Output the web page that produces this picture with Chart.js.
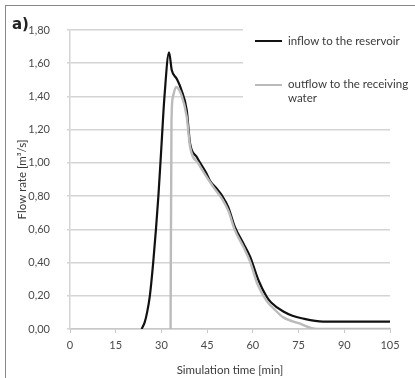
<!DOCTYPE html>
<html>
<head>
<meta charset="utf-8">
<script src="https://cdn.jsdelivr.net/npm/chart.js@4"></script>
<style>
  html, body { margin: 0; padding: 0; background: #fff; }
  #wrap { position: relative; width: 415px; height: 378px; overflow: hidden; }
  #frame { position: absolute; left: 5px; top: 5px; width: 420px; height: 400px;
           border-top: 1.5px solid #888; border-left: 1.5px solid #888; pointer-events: none; }
  #tag { position: absolute; left: 12px; top: 15px; font: bold 15px "DejaVu Sans", sans-serif; color: #222; }
  #legend { position: absolute; left: 243px; top: 22px; width: 172px; height: 88px; background: #fff;
            font: 11.5px Lato, sans-serif; color: #3a3a3a; }
  .item { position: absolute; left: 12px; }
  .swatch { position: absolute; left: 0; width: 27px; }
  .txt { position: absolute; left: 33px; line-height: 14px; white-space: nowrap; }
</style>
</head>
<body>
<div id="wrap">
  <canvas id="flowChart" width="415" height="378"></canvas>
  <div id="frame"></div>
  <div id="tag">a)</div>
  <div id="legend">
    <div class="item" style="top:18px"><div class="swatch" style="top:0;border-top:2.5px solid #111"></div><div class="txt" style="top:-6px">inflow to the reservoir</div></div>
    <div class="item" style="top:62px"><div class="swatch" style="top:0;border-top:2.5px solid #bbb"></div><div class="txt" style="top:-7px">outflow to the receiving<br>water</div></div>
  </div>
</div>
<script>
const inflowTime = [23.5, 24.5, 25.3, 26.2, 27.3, 28.2, 29.0, 30.0, 31.0, 32.5, 33.4, 35.0, 36.6, 38.3, 39.4, 41.6, 42.7, 44.8, 46.0, 48.1, 50.0, 51.9, 54.1, 56.9, 59.1, 61.8, 64.5, 66.0, 70.0, 73.0, 76.0, 83.0, 90.0, 105.0];
const inflowFlow = [0.0, 0.04, 0.1, 0.2, 0.4, 0.6, 0.8, 1.1, 1.4, 1.665, 1.557, 1.507, 1.437, 1.317, 1.117, 1.036, 1.0, 0.936, 0.89, 0.846, 0.8, 0.735, 0.615, 0.515, 0.435, 0.295, 0.195, 0.16, 0.105, 0.08, 0.065, 0.045, 0.045, 0.045];

const outflowTime = [33.0, 33.3, 33.8, 34.8, 36.6, 38.3, 39.4, 42.1, 47.0, 50.0, 52.0, 54.0, 57.0, 59.0, 61.5, 64.5, 67.0, 70.0, 75.0, 81.0, 105.0];
const outflowFlow = [0.0, 1.25, 1.4, 1.457, 1.407, 1.277, 1.097, 0.997, 0.856, 0.78, 0.71, 0.6, 0.49, 0.41, 0.27, 0.17, 0.12, 0.07, 0.035, 0.0, 0.0];

const xTicks = [0, 15, 30, 45, 60, 75, 90, 105];
const yTicks = [0, 0.2, 0.4, 0.6, 0.8, 1.0, 1.2, 1.4, 1.6, 1.8];

const toPoints = (xs, ys) => xs.map((x, i) => ({ x: x, y: ys[i] }));

const ctx = document.getElementById('flowChart').getContext('2d');
const flowChart = new Chart(ctx, {
  type: 'line',
  data: {
    datasets: [{
      label: 'outflow to the receiving water',
      data: toPoints(outflowTime, outflowFlow),
      borderColor: '#bbbbbb',
      borderWidth: 2.4,
      pointRadius: 0,
      cubicInterpolationMode: 'monotone'
    }, {
      label: 'inflow to the reservoir',
      data: toPoints(inflowTime, inflowFlow),
      borderColor: '#111111',
      borderWidth: 2.2,
      pointRadius: 0,
      cubicInterpolationMode: 'monotone'
    }]
  },
  options: {
    responsive: false,
    animation: false,
    layout: { padding: { top: 30, right: 25, left: 0, bottom: 0 } },
    plugins: { legend: { display: false }, tooltip: { enabled: false } },
    scales: {
      x: {
        type: 'linear',
        min: 0,
        max: 105,
        afterBuildTicks: axis => { axis.ticks = xTicks.map(v => ({ value: v })); },
        afterFit: axis => { axis.height = 49; },
        grid: { drawOnChartArea: false, drawTicks: true, tickLength: 4, color: '#c8c8c8', lineWidth: 1 },
        border: { color: '#c8c8c8', width: 1.5 },
        ticks: { color: '#4a4a4a', padding: 6, font: { family: 'Lato', size: 11 }, maxRotation: 0 },
        title: { display: true, text: 'Simulation time [min]', color: '#3a3a3a', font: { family: 'Lato', size: 11.5 }, padding: { top: 0, bottom: 1 } }
      },
      y: {
        min: 0,
        max: 1.8,
        afterBuildTicks: axis => { axis.ticks = yTicks.map(v => ({ value: v })); },
        afterFit: axis => { axis.width = 70; },
        grid: { color: '#d4d4d4', lineWidth: 1.5, tickLength: 3 },
        border: { color: '#d4d4d4', width: 1.5 },
        ticks: {
          color: '#4a4a4a',
          padding: 17,
          font: { family: 'Lato', size: 11 },
          callback: v => v.toFixed(2).replace('.', ',')
        },
        title: { display: true, text: 'Flow rate [m³/s]', color: '#3a3a3a', font: { family: 'Lato', size: 11.5 }, padding: { top: 15, bottom: 0 } }
      }
    }
  }
});
</script>
</body>
</html>
